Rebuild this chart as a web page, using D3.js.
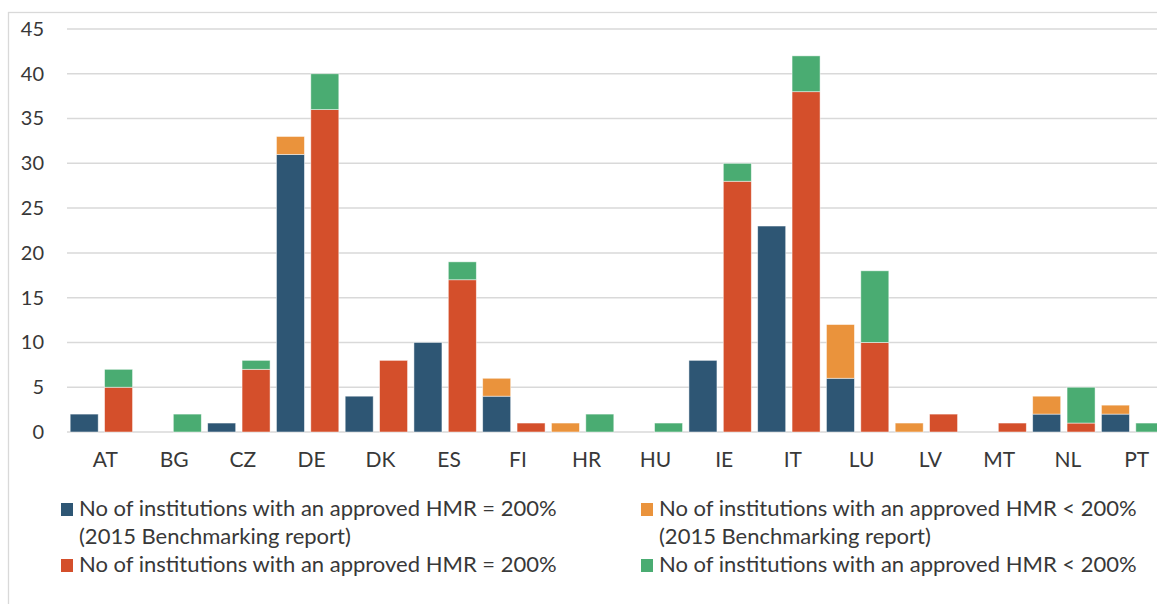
<!DOCTYPE html>
<html>
<head>
<meta charset="utf-8">
<script src="https://cdn.jsdelivr.net/npm/d3@7"></script>
<style>
  html, body { margin: 0; padding: 0; background: #fff; }
  svg { display: block; }
  text { font-family: Lato, "Open Sans", sans-serif; fill: #383838; }
</style>
</head>
<body>
<svg id="chart" width="1157" height="604"></svg>
<script>
// Member states
const countries = ["AT","BG","CZ","DE","DK","ES","FI","HR","HU","IE","IT","LU","LV","MT","NL","PT"];

// 2015 Benchmarking report
const hmrEq200_2015    = [2, 0, 1, 31, 4, 10, 4, 0, 0, 8, 23, 6, 0, 0, 2, 2];
const hmrBelow200_2015 = [0, 0, 0, 2, 0, 0, 2, 1, 0, 0, 0, 6, 1, 0, 2, 1];

// Current exercise
const hmrEq200    = [5, 0, 7, 36, 8, 17, 1, 0, 0, 28, 38, 10, 2, 1, 1, 0];
const hmrBelow200 = [2, 2, 1, 4, 0, 2, 0, 2, 1, 2, 4, 8, 0, 0, 4, 1];

const yTicks = [0, 5, 10, 15, 20, 25, 30, 35, 40, 45];

const seriesNames = [
  ["No of institutions with an approved HMR = 200%", "(2015 Benchmarking report)"],
  ["No of institutions with an approved HMR < 200%", "(2015 Benchmarking report)"],
  ["No of institutions with an approved HMR = 200%"],
  ["No of institutions with an approved HMR < 200%"]
];
const colors = ["#2e5674", "#ea933c", "#d44f2b", "#4aac72"];

const svg = d3.select("#chart");

// chart frame
svg.append("rect")
  .attr("x", 8.5).attr("y", 12.5)
  .attr("width", 1200).attr("height", 700)
  .attr("fill", "#fff").attr("stroke", "#d9d9d9").attr("stroke-width", 1.3);

const x0 = d3.scaleBand().domain(countries).range([67, 1167]).padding(0);
const x1 = d3.scaleBand().domain(["2015", "now"]).range([0, x0.bandwidth()])
  .paddingInner(0.185).paddingOuter(0.0925);
const y = d3.scaleLinear().domain([0, 45]).range([432, 29]);

// gridlines
svg.append("g")
  .selectAll("line").data(yTicks).join("line")
  .attr("x1", 67).attr("x2", 1160)
  .attr("y1", d => y(d)).attr("y2", d => y(d))
  .attr("stroke", "#d9d9d9").attr("stroke-width", 1.5);

// y axis labels
const yAxis = d3.axisLeft(y).tickValues(yTicks).tickSize(0).tickPadding(0);
svg.append("g").attr("transform", "translate(44,0)").call(yAxis)
  .call(g => g.select(".domain").remove())
  .call(g => g.selectAll("text")
    .attr("font-family", "Lato, 'Open Sans', sans-serif")
    .attr("font-size", 20).attr("fill", "#383838"));

// x axis labels
const xAxis = d3.axisBottom(x0).tickSize(0).tickPadding(0);
svg.append("g").attr("transform", "translate(4,452)").call(xAxis)
  .call(g => g.select(".domain").remove())
  .call(g => g.selectAll("text")
    .attr("font-family", "Lato, 'Open Sans', sans-serif")
    .attr("font-size", 21).attr("fill", "#383838").attr("dy", "0.72em"));

// stacked bars: two per country
const rows = countries.map((c, i) => ({
  country: c,
  stacks: [
    { key: "2015", parts: [[hmrEq200_2015[i], colors[0]], [hmrBelow200_2015[i], colors[1]]] },
    { key: "now",  parts: [[hmrEq200[i], colors[2]], [hmrBelow200[i], colors[3]]] }
  ]
}));

const segs = [];
rows.forEach(r => r.stacks.forEach(s => {
  let base = 0;
  s.parts.forEach(([v, col]) => {
    if (v > 0) segs.push({ country: r.country, key: s.key, y0: base, y1: base + v, color: col });
    base += v;
  });
}));

svg.append("g").selectAll("rect").data(segs).join("rect")
  .attr("x", d => x0(d.country) + x1(d.key))
  .attr("width", x1.bandwidth())
  .attr("y", d => y(d.y1))
  .attr("height", d => y(d.y0) - y(d.y1))
  .attr("fill", d => d.color)
  .attr("stroke", "#ffffff").attr("stroke-opacity", 0.6).attr("stroke-width", 0.8);

// legend
const legendPos = [[61, 516], [641, 516], [61, 572], [641, 572]];
const leg = svg.append("g");
seriesNames.forEach((lines, i) => {
  const [lx, ly] = legendPos[i];
  leg.append("rect").attr("x", lx).attr("y", ly - 13).attr("width", 12).attr("height", 13)
    .attr("fill", colors[i]);
  lines.forEach((t, j) => {
    leg.append("text").attr("x", lx + 18).attr("y", ly + j * 28)
      .attr("font-size", 22).text(t);
  });
});
</script>
</body>
</html>
